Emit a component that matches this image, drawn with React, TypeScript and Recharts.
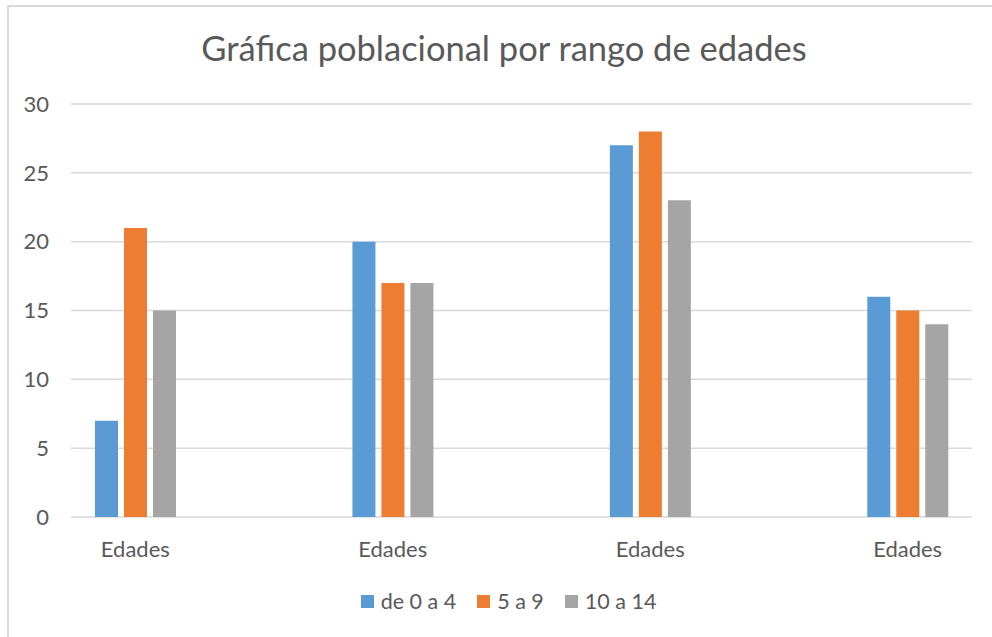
import { BarChart, Bar, XAxis, YAxis, CartesianGrid } from "recharts";

// Excel-style chart: 7 category slots, the odd ones are empty spacers
const categories = ["Edades", "", "Edades", "", "Edades", "", "Edades"];
const de0a4 = [7, null, 20, null, 27, null, 16];
const de5a9 = [21, null, 17, null, 28, null, 15];
const de10a14 = [15, null, 17, null, 23, null, 14];
const yTicks = [0, 5, 10, 15, 20, 25, 30];

const SERIES = [
  { key: "a", name: "de 0 a 4", color: "#5B9BD5" },
  { key: "b", name: "5 a 9", color: "#ED7D31" },
  { key: "c", name: "10 a 14", color: "#A5A5A5" },
];

const data = categories.map((cat, i) => ({
  cat,
  a: de0a4[i],
  b: de5a9[i],
  c: de10a14[i],
}));

const FONT = "Lato, 'Open Sans', sans-serif";
const TEXT = "#595959";
const GRID = "#d9d9d9";

function ChartLegend() {
  return (
    <div
      style={{
        position: "absolute",
        left: 0,
        width: 1017,
        top: 590,
        display: "flex",
        justifyContent: "center",
        alignItems: "center",
        gap: 21,
        fontFamily: FONT,
        fontSize: 21.5,
        lineHeight: "22px",
        color: TEXT,
      }}
    >
      {SERIES.map((s) => (
        <div key={s.key} style={{ display: "flex", alignItems: "center" }}>
          <span style={{ width: 13, height: 13, background: s.color, display: "inline-block", marginRight: 7 }} />
          <span>{s.name}</span>
        </div>
      ))}
    </div>
  );
}

export default function App() {
  return (
    <div style={{ position: "absolute", left: 0, top: 0, width: 992, height: 637, background: "#fff", overflow: "hidden" }}>
      <div
        style={{
          position: "absolute",
          left: 7,
          top: 5,
          width: 1000,
          height: 640,
          borderTop: `2px solid ${GRID}`,
          borderLeft: `2px solid ${GRID}`,
        }}
      />
      <div
        style={{
          position: "absolute",
          left: 0,
          width: 1008,
          top: 28,
          textAlign: "center",
          fontFamily: FONT,
          fontSize: 34.5,
          color: TEXT,
          lineHeight: "40px",
        }}
      >
        Gráfica poblacional por rango de edades
      </div>
      <div style={{ position: "absolute", left: 0, top: 0 }}>
        <BarChart
          width={992}
          height={637}
          data={data}
          margin={{ top: 104, right: 20, bottom: 90, left: 0 }}
          barSize={23}
          barGap={6}
        >
          <CartesianGrid vertical={false} stroke={GRID} strokeWidth={1.5} />
          <XAxis
            dataKey="cat"
            height={30}
            axisLine={false}
            tickLine={false}
            tickMargin={18}
            interval={0}
            tick={{ fill: TEXT, fontSize: 22, fontFamily: FONT }}
          />
          <YAxis
            domain={[0, 30]}
            ticks={yTicks}
            width={71}
            axisLine={false}
            tickLine={false}
            tickMargin={16}
            tick={{ fill: TEXT, fontSize: 22, fontFamily: FONT }}
          />
          {SERIES.map((s) => (
            <Bar key={s.key} dataKey={s.key} name={s.name} fill={s.color} isAnimationActive={false} />
          ))}
        </BarChart>
      </div>
      <ChartLegend />
    </div>
  );
}
